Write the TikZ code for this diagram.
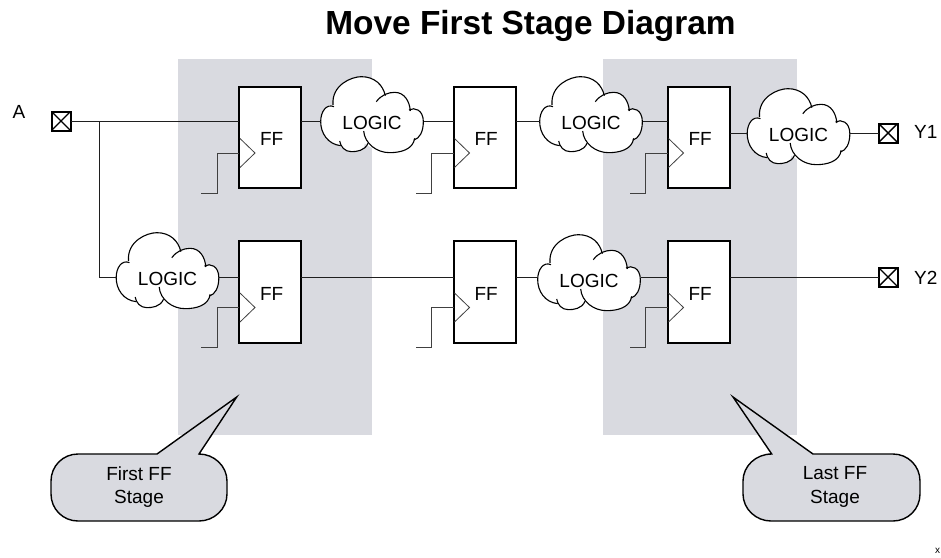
\documentclass[tikz,border=0pt]{standalone}
\usepackage{fontspec}
\setmainfont{Liberation Sans}
\tikzset{
  stage/.style={fill=stagegray,draw=none},
  wire/.style={line width=1pt,draw=black!88},
  clockwire/.style={line width=1pt,draw=black!75},
  ffbox/.style={draw=black,line width=2pt,fill=white,minimum width=62pt,minimum height=101.5pt,inner sep=0pt,outer sep=0pt,font=\fontsize{19}{20}\selectfont,text height=16.8pt,text depth=0pt},
  clocktri/.style={line width=0.8pt,draw=black!75},
  cloudnode/.style={minimum width=103pt,minimum height=88pt,inner sep=0pt,outer sep=0pt,font=\fontsize{19}{20}\selectfont,text height=16pt,text depth=0pt},
  cloudline/.style={line width=1.1pt,draw=black},
  iopad/.style={draw=black,line width=2pt,fill=white,minimum size=19pt,inner sep=0pt,outer sep=0pt,
    path picture={\draw[line width=1.4pt,black] (path picture bounding box.north west)--(path picture bounding box.south east) (path picture bounding box.north east)--(path picture bounding box.south west);}},
  calloutshape/.style={fill=stagegray,draw=black,line width=1.4pt,line join=miter},
  label/.style={font=\fontsize{19}{23.5}\selectfont,inner sep=0pt,align=center},
}
\definecolor{stagegray}{HTML}{D9DAE0}
\newcommand{\FFblock}[4]{%
  \node[ffbox] (#1) at ({#2+31},{#3+50.75}) {\hspace*{3.4pt}FF};
  \coordinate (#1-d) at ({#2},{#3+34.5});
  \coordinate (#1-q) at ({#2+62},{#3+#4});
  \coordinate (#1-clk) at ({#2},{#3+66.5});
  \coordinate (#1-bend) at ({#2-22},{#3+106.5});
  \coordinate (#1-end) at ({#2-38},{#3+106.5});
  \coordinate (#1-ta) at ({#2+1},{#3+52});
  \coordinate (#1-tb) at ({#2+16},{#3+66.5});
  \coordinate (#1-tc) at ({#2+1},{#3+81});
  \draw[clocktri] (#1-ta) -- (#1-tb) -- (#1-tc);
  \draw[clockwire] (#1-clk) -| (#1-bend) -- (#1-end);
}
\newcommand{\LogicCloud}[3]{%
  \begin{scope}[shift={(#2,#3)},x=0.3333pt,y=-0.3333pt]
    \fill[white] (-117,-48) .. controls (-122,-108) and (-62,-133) .. (-32,-133)
      .. controls (8,-133) and (33,-108) .. (40,-76) -- (13,-58)
      .. controls (28,-78) and (48,-86) .. (68,-86) .. controls (98,-86) and (113,-58) .. (115,-30)
      .. controls (128,-43) and (154,-33) .. (154,2) .. controls (154,32) and (143,52) .. (126,57)
      .. controls (123,87) and (83,95) .. (53,95) .. controls (13,95) and (-22,67) .. (-22,67)
      .. controls (-22,90) and (-47,92) .. (-62,92) .. controls (-82,92) and (-94,77) .. (-94,74)
      .. controls (-132,70) and (-154,37) .. (-154,2) .. controls (-154,-28) and (-137,-53) .. (-117,-48) -- cycle;
    \draw[cloudline] (-117,-48) .. controls (-122,-108) and (-62,-133) .. (-32,-133) .. controls (8,-133) and (33,-108) .. (40,-76);
    \draw[cloudline] (13,-58) .. controls (28,-78) and (48,-86) .. (68,-86) .. controls (98,-86) and (113,-58) .. (115,-30);
    \draw[cloudline] (111,-33) .. controls (128,-43) and (154,-33) .. (154,2) .. controls (154,32) and (143,52) .. (126,57);
    \draw[cloudline] (128,52) .. controls (123,87) and (83,95) .. (53,95) .. controls (13,95) and (-22,67) .. (-25,30);
    \draw[cloudline] (-12,67) .. controls (-22,90) and (-47,92) .. (-62,92) .. controls (-82,92) and (-94,77) .. (-97,60);
    \draw[cloudline] (-94,74) .. controls (-132,70) and (-154,37) .. (-154,2) .. controls (-154,-28) and (-137,-53) .. (-114,-43);
  \end{scope}
  \node[cloudnode] (#1) at (#2,#3) {LOGIC};
}
\begin{document}
\begin{tikzpicture}[x=1pt,y=-1pt]
  \useasboundingbox[fill=white] (0,0) rectangle (941,557);
  % stage bands
  \fill[stage] (178,59) rectangle (372,435);
  \fill[stage] (603,59) rectangle (797,435);
  % callouts
  \draw[calloutshape] (157,454) -- (236.7,397) -- (199,454) .. controls (214,454) and (227,466) .. (227,481)
    -- (227,494) .. controls (227,509) and (214,521) .. (199,521) -- (78,521)
    .. controls (63,521) and (51,509) .. (51,494) -- (51,481) .. controls (51,466) and (63,454) .. (78,454) -- cycle;
  \draw[calloutshape] (813,454) -- (733,397) -- (771.7,454) .. controls (756,454) and (743,466) .. (743,481)
    -- (743,494) .. controls (743,509) and (756,521) .. (771,521) -- (893,521)
    .. controls (908,521) and (920,509) .. (920,494) -- (920,481) .. controls (920,466) and (908,454) .. (893,454) -- cycle;
  \node[label] (firstlabel) at (139,487) {First FF\\Stage};
  \node[label] (lastlabel) at (835,487) {Last FF\\Stage};
  % title and pin labels
  \node[font=\bfseries\fontsize{33.4}{35}\selectfont,inner sep=0pt,anchor=base] (title) at (530.5,34) {Move First Stage Diagram};
  \node[label] (alabel) at (19,112) {A};
  \node[label,anchor=west] (y1label) at (914,132) {Y1};
  \node[label,anchor=west] (y2label) at (914,278) {Y2};
  \node[font=\fontsize{10}{12}\selectfont,inner sep=0pt] (xmark) at (937.5,551) {x};
  % flip-flops
  \FFblock{fa}{239}{86.5}{34.5}
  \FFblock{fb}{453.5}{86.5}{34.5}
  \FFblock{fc}{667.5}{86.5}{46.5}
  \FFblock{fd}{239}{241}{36}
  \FFblock{fe}{453.5}{241}{36}
  \FFblock{ff}{667.5}{241}{36}
  % clouds
  \LogicCloud{ca}{372}{121}
  \LogicCloud{cb}{591}{121}
  \LogicCloud{cc}{798.5}{133}
  \LogicCloud{cd}{167.5}{277}
  \LogicCloud{ce}{589}{279}
  % pads
  \node[iopad] (pa) at (61,121) {};
  \node[iopad] (py1) at (888,133) {};
  \node[iopad] (py2) at (888,277) {};
  % connectors
  \coordinate (jct) at (99.5,121);
  \draw[wire] (pa) -- (fa-d);
  \draw[wire] (jct) |- (cd.west);
  \draw[wire] (fa-q) -- (fa-q -| ca.west);
  \draw[wire] (ca.east |- fb-d) -- (fb-d);
  \draw[wire] (fb-q) -- (fb-q -| cb.west);
  \draw[wire] (cb.east |- fc-d) -- (fc-d);
  \draw[wire] (fc-q) -- (fc-q -| cc.west);
  \draw[wire] (cc.east) -- (py1);
  \draw[wire] (cd.east) -- (cd.east -| fd.west);
  \draw[wire] (fd.east |- cd.east) -- (fe.west |- cd.east);
  \draw[wire] (fe.east |- cd.east) -- (ce.west |- cd.east);
  \draw[wire] (ce.east |- cd.east) -- (ff.west |- cd.east);
  \draw[wire] (ff.east |- cd.east) -- (py2);
\end{tikzpicture}
\end{document}
